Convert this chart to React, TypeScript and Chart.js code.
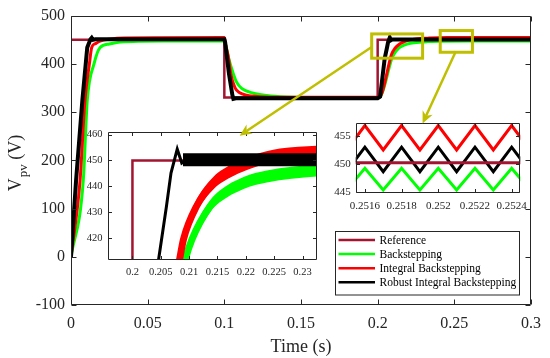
import React, { useEffect, useRef } from "react";
import { Chart, registerables } from "chart.js";
Chart.register(...registerables);

const SERIF = "'Liberation Serif', 'Times New Roman', Times, serif";
const AXIS_COLOR = "#262626";
const REF_COLOR = "#A2142F";
const GREEN = "#00FF00";
const RED = "#FF0000";
const BLACK = "#000000";
const YELLOW = "#BFBF00";

// ---------- main axes ----------
const X_TICKS = [0, 0.05, 0.1, 0.15, 0.2, 0.25, 0.3];
const X_LABELS = ["0", "0.05", "0.1", "0.15", "0.2", "0.25", "0.3"];
const Y_TICKS = [-100, 0, 100, 200, 300, 400, 500];
const Y_LABELS = ["-100", "0", "100", "200", "300", "400", "500"];

// Reference
const REF_T = [0, 0.1, 0.1, 0.2, 0.2, 0.3];
const REF_V = [450, 450, 330, 330, 450, 450];

// Backstepping (green)
const BS_T = [0, 0.008, 0.0106, 0.015, 0.019, 0.025, 0.032, 0.045, 0.06, 0.1, 0.101, 0.1028, 0.1059, 0.108, 0.1113, 0.119, 0.1277, 0.14, 0.16, 0.2, 0.2015, 0.2093, 0.2105, 0.2137, 0.2154, 0.2196, 0.2237, 0.2325, 0.24, 0.26, 0.3];
const BS_V = [0, 158, 324, 400, 434, 441, 445, 447, 447.3, 447.3, 438, 412, 379, 362, 349, 339, 334.5, 331.5, 330, 330, 331, 411.5, 419.5, 432.3, 436.1, 441.3, 443.8, 446.1, 446.9, 447.3, 447.3];

// Integral Backstepping (red)
const IB_T = [0, 0.0059, 0.0091, 0.012, 0.0135, 0.016, 0.019, 0.025, 0.035, 0.1, 0.1008, 0.1026, 0.1042, 0.107, 0.11, 0.1146, 0.123, 0.14, 0.2, 0.2012, 0.2083, 0.209, 0.2113, 0.2143, 0.2178, 0.2213, 0.226, 0.2325, 0.245, 0.3];
const IB_V = [0, 158, 324, 400, 434, 442, 447, 451, 453.5, 454.5, 440, 414, 379, 350, 340, 335, 332, 330.5, 330.5, 331, 411.5, 419.5, 432.3, 441.3, 446.4, 449.6, 452.2, 453.3, 454.5, 454.7];

// Robust Integral Backstepping (black)
const RIB_T = [0, 0.0033, 0.0074, 0.0106, 0.0127, 0.0135, 0.0143, 0.016, 0.1, 0.1005, 0.103, 0.1052, 0.1059, 0.1075, 0.2, 0.2016, 0.2046, 0.206, 0.2068, 0.2079, 0.2087, 0.2095, 0.3];
const RIB_V = [0, 158, 324, 434, 451, 454, 450, 451, 451, 445, 380, 336, 327.5, 328.5, 328.5, 332, 411.5, 432.3, 445.1, 454.4, 449, 450.3, 450.3];

// ---------- inset 1 (zoom of 0.2 transient) ----------
const IN1_X_TICKS = [0.2, 0.205, 0.21, 0.215, 0.22, 0.225, 0.23];
const IN1_X_LABELS = ["0.2", "0.205", "0.21", "0.215", "0.22", "0.225", "0.23"];
const IN1_Y_TICKS = [420, 430, 440, 450, 460];
const IN1_Y_LABELS = ["420", "430", "440", "450", "460"];
// high-frequency ripple envelopes
const RIB_BAND_T = [0.2089, 0.2335];
const RIB_BAND_HI = [452.8, 452.8];
const RIB_BAND_LO = [447.8, 447.8];
const IB_RIPPLE = 2.4;
const BS_RIPPLE = 2.3;

// ---------- inset 2 (ripple detail) ----------
const IN2_X_TICKS = [0.2516, 0.2518, 0.252, 0.2522, 0.2524];
const IN2_X_LABELS = ["0.2516", "0.2518", "0.252", "0.2522", "0.2524"];
const IN2_Y_TICKS = [445, 450, 455];
const IN2_Y_LABELS = ["445", "450", "455"];
const Z_T = [0.2515, 0.2516, 0.2517, 0.2518, 0.2519, 0.252, 0.2521, 0.2522, 0.2523, 0.2524, 0.2525];
const Z_IB = [452.5, 456.9, 452.5, 456.9, 452.5, 456.9, 452.5, 456.9, 452.5, 456.9, 452.5];
const Z_RIB = [448.6, 453.0, 448.6, 453.0, 448.6, 453.0, 448.6, 453.0, 448.6, 453.0, 448.6];
const Z_BS = [445.3, 449.2, 445.3, 449.2, 445.3, 449.2, 445.3, 449.2, 445.3, 449.2, 445.3];
const Z_REF_T = [0.2515, 0.2525];
const Z_REF = [450.2, 450.2];

// ---------- legend ----------
const LEGEND_NAMES = ["Reference", "Backstepping", "Integral Backstepping", "Robust Integral Backstepping"];
const LEGEND_COLORS = [REF_COLOR, GREEN, RED, BLACK];

// zoom markers in main data coords
const BOX1 = { t0: 0.1961, t1: 0.2293, v0: 411.7, v1: 462 };
const BOX2 = { t0: 0.2408, t1: 0.2618, v0: 424, v1: 469 };
const ARROW1 = { t0: 0.1961, v0: 435, t1: 0.11, v1: 251 };
const ARROW2 = { t0: 0.251, v0: 426, t1: 0.2293, v1: 276.5 };

const pts = (T: number[], V: number[], d = 0) => T.map((t, i) => ({ x: t, y: V[i] + d }));

function line(data: any[], color: string, width: number, smooth = false, extra: any = {}) {
  return {
    data,
    borderColor: color,
    backgroundColor: color,
    borderWidth: width,
    pointRadius: 0,
    fill: false,
    tension: 0,
    cubicInterpolationMode: smooth ? "monotone" : "default",
    clip: 0,
    ...extra,
  };
}

function framePlugin(o: { xTicks: number[]; yTicks: number[]; tick: number; whiteBg: boolean; extra?: (c: any) => void }) {
  return {
    id: "frame",
    beforeDraw(chart: any) {
      if (!o.whiteBg) return;
      const { ctx, chartArea: a } = chart;
      ctx.save();
      ctx.fillStyle = "#fff";
      ctx.fillRect(a.left, a.top, a.right - a.left, a.bottom - a.top);
      ctx.restore();
    },
    afterDraw(chart: any) {
      const { ctx, chartArea: a, scales } = chart;
      ctx.save();
      ctx.strokeStyle = AXIS_COLOR;
      ctx.lineWidth = 1;
      const L = Math.round(a.left) + 0.5, R = Math.round(a.right) - 0.5;
      const T = Math.round(a.top) + 0.5, B = Math.round(a.bottom) - 0.5;
      ctx.beginPath();
      ctx.rect(L, T, R - L, B - T);
      for (const v of o.xTicks) {
        const px = Math.round(scales.x.getPixelForValue(v)) + 0.5;
        ctx.moveTo(px, B); ctx.lineTo(px, B - o.tick);
        ctx.moveTo(px, T); ctx.lineTo(px, T + o.tick);
      }
      for (const v of o.yTicks) {
        const py = Math.round(scales.y.getPixelForValue(v)) + 0.5;
        ctx.moveTo(L, py); ctx.lineTo(L + o.tick, py);
        ctx.moveTo(R, py); ctx.lineTo(R - o.tick, py);
      }
      ctx.stroke();
      if (o.extra) o.extra(chart);
      ctx.restore();
    },
  };
}

function axes(cfg: any) {
  return {
    x: {
      type: "linear",
      min: cfg.xMin, max: cfg.xMax,
      grid: { display: false, drawTicks: false },
      border: { display: false },
      afterBuildTicks: (s: any) => { s.ticks = cfg.xTicks.map((v: number) => ({ value: v })); },
      afterFit: (s: any) => { s.height = cfg.xHeight; },
      ticks: {
        color: AXIS_COLOR, font: { family: SERIF, size: cfg.font }, padding: cfg.xPad,
        maxRotation: 0, autoSkip: false,
        callback: (_v: any, i: number) => cfg.xLabels[i],
      },
    },
    y: {
      type: "linear",
      min: cfg.yMin, max: cfg.yMax,
      grid: { display: false, drawTicks: false },
      border: { display: false },
      afterBuildTicks: (s: any) => { s.ticks = cfg.yTicks.map((v: number) => ({ value: v })); },
      afterFit: (s: any) => { s.width = cfg.yWidth; },
      ticks: {
        color: AXIS_COLOR, font: { family: SERIF, size: cfg.font }, padding: cfg.yPad,
        autoSkip: false,
        callback: (_v: any, i: number) => cfg.yLabels[i],
      },
    },
  };
}

const baseOptions = (padding: any, scales: any) => ({
  animation: false,
  responsive: false,
  maintainAspectRatio: false,
  events: [],
  layout: { padding },
  plugins: { legend: { display: false }, tooltip: { enabled: false } },
  elements: { point: { radius: 0 } },
  scales,
});

function drawYTitle(chart: any) {
  const ctx = chart.ctx;
  const a = chart.chartArea;
  ctx.save();
  ctx.fillStyle = AXIS_COLOR;
  ctx.translate(21, 163);
  ctx.rotate(-Math.PI / 2);
  ctx.textAlign = "left";
  ctx.textBaseline = "alphabetic";
  const big = `18px ${SERIF}`, small = `13px ${SERIF}`;
  ctx.font = big;
  const wV = ctx.measureText("V").width;
  const wP = ctx.measureText(" (V)").width;
  ctx.font = small;
  const wS = ctx.measureText("pv").width;
  let x = -(wV + 1 + wS + wP) / 2;
  ctx.font = big; ctx.fillText("V", x, 0); x += wV + 1;
  ctx.font = small; ctx.fillText("pv", x, 6); x += wS;
  ctx.font = big; ctx.fillText(" (V)", x, 0);
  ctx.restore();
  ctx.save();
  ctx.fillStyle = AXIS_COLOR;
  ctx.font = `18px ${SERIF}`;
  ctx.textAlign = "center";
  ctx.textBaseline = "middle";
  ctx.fillText("Time (s)", (a.left + a.right) / 2, 347);
  ctx.restore();
}

function drawArrow(ctx: CanvasRenderingContext2D, x0: number, y0: number, x1: number, y1: number) {
  const ang = Math.atan2(y1 - y0, x1 - x0);
  const len = 12, half = 5.5;
  const ux = Math.cos(ang), uy = Math.sin(ang);
  const bx = x1 - ux * len, by = y1 - uy * len;
  const nx = x1 - ux * len * 0.7, ny = y1 - uy * len * 0.7;
  ctx.beginPath();
  ctx.moveTo(x0, y0);
  ctx.lineTo(nx, ny);
  ctx.stroke();
  ctx.beginPath();
  ctx.moveTo(x1, y1);
  ctx.lineTo(bx - uy * half, by + ux * half);
  ctx.lineTo(nx, ny);
  ctx.lineTo(bx + uy * half, by - ux * half);
  ctx.closePath();
  ctx.fill();
}

export default function App() {
  const mainRef = useRef<HTMLCanvasElement>(null);
  const in1Ref = useRef<HTMLCanvasElement>(null);
  const in2Ref = useRef<HTMLCanvasElement>(null);
  const ovRef = useRef<HTMLCanvasElement>(null);

  useEffect(() => {
    const main = new Chart(mainRef.current as any, {
      type: "line",
      data: {
        datasets: [
          line(pts(RIB_T, RIB_V), BLACK, 4),
          line(pts(IB_T, IB_V), RED, 3, true),
          line(pts(BS_T, BS_V), GREEN, 3, true),
          line(pts(REF_T, REF_V), REF_COLOR, 2.5),
        ] as any,
      },
      options: baseOptions(
        { left: 0, right: 18, top: 15.3, bottom: 0 },
        axes({
          xMin: 0, xMax: 0.3, yMin: -100, yMax: 500,
          xTicks: X_TICKS, xLabels: X_LABELS, yTicks: Y_TICKS, yLabels: Y_LABELS,
          xHeight: 53, yWidth: 71, font: 16, xPad: 9, yPad: 6,
        })
      ) as any,
      plugins: [framePlugin({ xTicks: X_TICKS, yTicks: Y_TICKS, tick: 5, whiteBg: false, extra: drawYTitle })],
    });

    const in1 = new Chart(in1Ref.current as any, {
      type: "line",
      data: {
        datasets: [
          line(pts(RIB_T, RIB_V), BLACK, 3),
          line(pts(RIB_BAND_T, RIB_BAND_HI), BLACK, 0, false, { fill: "+1" }),
          line(pts(RIB_BAND_T, RIB_BAND_LO), BLACK, 0),
          line(pts(IB_T, IB_V), RED, 7, true),
          line(pts(IB_T, IB_V, IB_RIPPLE), RED, 0, true, { fill: "+1" }),
          line(pts(IB_T, IB_V, -IB_RIPPLE), RED, 0, true),
          line(pts(BS_T, BS_V), GREEN, 7, true),
          line(pts(BS_T, BS_V, BS_RIPPLE), GREEN, 0, true, { fill: "+1" }),
          line(pts(BS_T, BS_V, -BS_RIPPLE), GREEN, 0, true),
          line(pts(REF_T, REF_V), REF_COLOR, 2.5),
        ] as any,
      },
      options: baseOptions(
        { left: 0, right: 233.3, top: 131.5, bottom: 0 },
        axes({
          xMin: 0.1956, xMax: 0.2325, yMin: 411.5, yMax: 461.2,
          xTicks: IN1_X_TICKS, xLabels: IN1_X_LABELS, yTicks: IN1_Y_TICKS, yLabels: IN1_Y_LABELS,
          xHeight: 98, yWidth: 107.5, font: 10.5, xPad: 6, yPad: 5,
        })
      ) as any,
      plugins: [framePlugin({ xTicks: IN1_X_TICKS, yTicks: IN1_Y_TICKS, tick: 3.5, whiteBg: true })],
    });

    const in2 = new Chart(in2Ref.current as any, {
      type: "line",
      data: {
        datasets: [
          line(pts(Z_REF_T, Z_REF), REF_COLOR, 3),
          line(pts(Z_T, Z_RIB), BLACK, 3),
          line(pts(Z_T, Z_IB), RED, 3),
          line(pts(Z_T, Z_BS), GREEN, 3),
        ] as any,
      },
      options: baseOptions(
        { left: 0, right: 29.7, top: 123.3, bottom: 0 },
        axes({
          xMin: 0.25155, xMax: 0.252447, yMin: 444.7, yMax: 457.3,
          xTicks: IN2_X_TICKS, xLabels: IN2_X_LABELS, yTicks: IN2_Y_TICKS, yLabels: IN2_Y_LABELS,
          xHeight: 164.7, yWidth: 355.7, font: 11, xPad: 6, yPad: 5,
        })
      ) as any,
      plugins: [framePlugin({ xTicks: IN2_X_TICKS, yTicks: IN2_Y_TICKS, tick: 3.5, whiteBg: true })],
    });

    // overlay: zoom boxes, arrows, legend
    const ov = (ovRef.current as HTMLCanvasElement).getContext("2d") as CanvasRenderingContext2D;
    ov.clearRect(0, 0, 550, 358);
    const sx = main.scales.x, sy = main.scales.y;
    const P = (t: number, v: number) => [sx.getPixelForValue(t), sy.getPixelForValue(v)];
    ov.save();
    ov.strokeStyle = YELLOW;
    ov.fillStyle = YELLOW;
    ov.lineWidth = 3;
    for (const b of [BOX1, BOX2]) {
      const [x0, y0] = P(b.t0, b.v1);
      const [x1, y1] = P(b.t1, b.v0);
      ov.strokeRect(x0, y0, x1 - x0, y1 - y0);
    }
    ov.lineWidth = 2.5;
    for (const a of [ARROW1, ARROW2]) {
      const [x0, y0] = P(a.t0, a.v0);
      const [x1, y1] = P(a.t1, a.v1);
      drawArrow(ov, x0, y0, x1, y1);
    }
    ov.restore();

    // legend
    ov.save();
    ov.fillStyle = "#fff";
    ov.fillRect(335.5, 231.5, 184, 63.5);
    ov.strokeStyle = AXIS_COLOR;
    ov.lineWidth = 1;
    ov.strokeRect(335.5, 231.5, 184, 63.5);
    ov.font = `11.5px ${SERIF}`;
    ov.textBaseline = "middle";
    ov.textAlign = "left";
    LEGEND_NAMES.forEach((name, i) => {
      const y = 240 + i * 14.1;
      ov.strokeStyle = LEGEND_COLORS[i];
      ov.lineWidth = 2.5;
      ov.beginPath();
      ov.moveTo(338.5, y);
      ov.lineTo(375, y);
      ov.stroke();
      ov.fillStyle = "#000";
      ov.fillText(name, 379.5, y + 0.5);
    });
    ov.restore();

    return () => {
      main.destroy();
      in1.destroy();
      in2.destroy();
    };
  }, []);

  const cs: React.CSSProperties = { position: "absolute", left: 0, top: 0, width: 550, height: 358 };
  return (
    <div style={{ position: "fixed", left: 0, top: 0, width: 550, height: 358, background: "#fff", overflow: "hidden" }}>
      <canvas ref={mainRef} width={550} height={358} style={cs} />
      <canvas ref={in1Ref} width={550} height={358} style={cs} />
      <canvas ref={in2Ref} width={550} height={358} style={cs} />
      <canvas ref={ovRef} width={550} height={358} style={cs} />
    </div>
  );
}
